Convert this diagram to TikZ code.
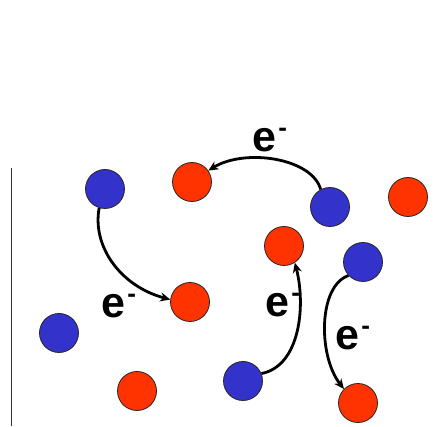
\documentclass[tikz,border=0pt]{standalone}
\usepackage{fontspec}
\setmainfont{Liberation Sans}
\usetikzlibrary{arrows.meta}
\definecolor{ionblue}{HTML}{3333CC}
\definecolor{ionred}{HTML}{FF3300}
\newcommand{\elec}{e\rlap{\hspace{2.5pt}\raisebox{15pt}{\fontsize{26}{26}\selectfont -}}}
\begin{document}
\begin{tikzpicture}[x=1pt,y=1pt,
  ion/.style={circle, draw=black!85, line width=0.8pt, minimum size=39pt, inner sep=0pt},
  donor/.style={ion, fill=ionblue},
  acceptor/.style={ion, fill=ionred},
  hop/.style={line width=2.8pt, -{Stealth[length=10pt,width=9pt]}},
  elab/.style={font=\fontsize{43}{43}\selectfont\bfseries, inner sep=0pt}]
\useasboundingbox (0,0) rectangle (442,426);
% wall
\coordinate (w1) at (11,0);
\coordinate (w2) at (11,258);
\draw[line width=1pt, black!80] (w1) -- (w2);
% ions
\node[donor] (B1) at (105,237) {};
\node[donor] (B2) at (330,219) {};
\node[donor] (B3) at (363,164) {};
\node[donor] (B4) at (59,93) {};
\node[donor] (B5) at (243,45) {};
\node[acceptor] (R1) at (192,244) {};
\node[acceptor] (R2) at (408,229) {};
\node[acceptor] (R3) at (284,180) {};
\node[acceptor] (R4) at (190,124) {};
\node[acceptor] (R5) at (137,35) {};
\node[acceptor] (R6) at (358,23) {};
% electron hops
\draw[hop] (B2.118) .. controls (312,268) and (245,278) .. (R1.35);
\draw[hop] (B1.253) .. controls (92,180) and (120,140) .. (R4.173);
\draw[hop] (B5.22) .. controls (300,60) and (306,120) .. (R3.303);
\draw[hop] (B3.223) .. controls (318,140) and (318,70) .. (R6.135);
% labels
\node[elab] (e1) at (264,286) {\elec};
\node[elab] (e2) at (113,120) {\elec};
\node[elab] (e3) at (277,121) {\elec};
\node[elab] (e4) at (347,88) {\elec};
\end{tikzpicture}
\end{document}
